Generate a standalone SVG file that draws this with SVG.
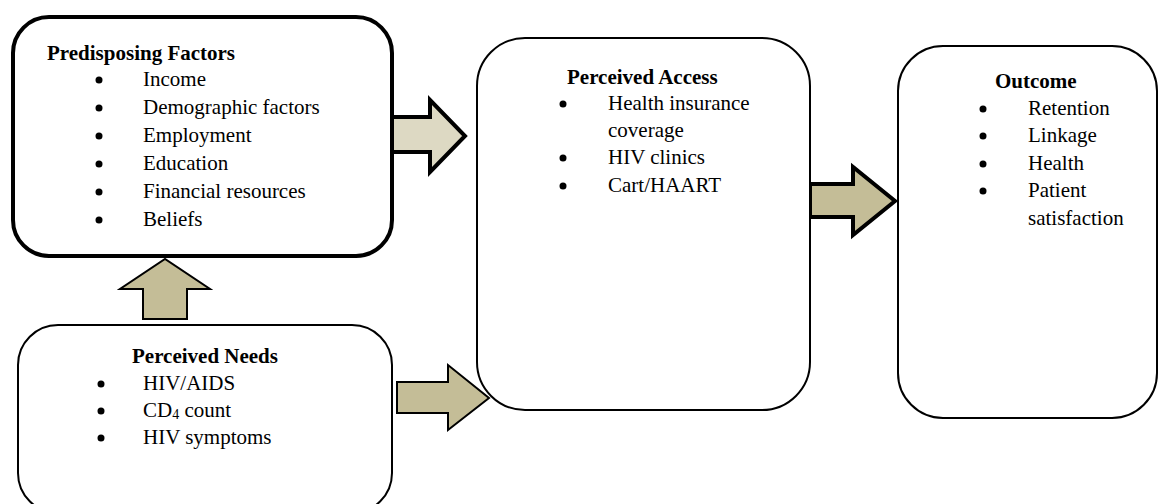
<svg xmlns="http://www.w3.org/2000/svg" width="1159" height="504" viewBox="0 0 1159 504">
<style>
.box{fill:#fff;stroke:#000;stroke-width:2}
.thick{stroke-width:4}
text{font-family:"Liberation Serif","Times New Roman",serif;font-size:21px;fill:#000}
.t{font-weight:bold}
.dot{fill:#000}
.arr{fill:#c4bd97;stroke:#000;stroke-width:2;stroke-linejoin:miter}
.arrT{stroke-width:4}
.light{fill:#ddd9c3}
</style>
<rect width="1159" height="504" fill="#fff"/>
<g id="connectors">
<polygon class="arr" points="143,319 143,289 120,289 165,259 210,289 187,289 187,319"/>
<polygon class="arr arrT light" points="392,117 430,117 430,100 465,136 430,172 430,152 392,152"/>
<polygon class="arr arrT" points="810,184 853,184 853,167 895,201 853,235 853,217 810,217"/>
<polygon class="arr" points="397,382 448,382 448,365 489,398 448,430 448,413 397,413"/>
</g>
<g id="predisposing">
<rect class="box thick" x="13" y="17" width="379" height="239" rx="36"/>
<text class="t" x="47" y="60">Predisposing Factors</text>
<circle class="dot" cx="99" cy="80" r="3.5"/><text x="143" y="86">Income</text>
<circle class="dot" cx="99" cy="108" r="3.5"/><text x="143" y="114">Demographic factors</text>
<circle class="dot" cx="99" cy="136" r="3.5"/><text x="143" y="142">Employment</text>
<circle class="dot" cx="99" cy="164" r="3.5"/><text x="143" y="170">Education</text>
<circle class="dot" cx="99" cy="192" r="3.5"/><text x="143" y="198">Financial resources</text>
<circle class="dot" cx="99" cy="220" r="3.5"/><text x="143" y="226">Beliefs</text>
</g>
<g id="needs">
<rect class="box" x="18" y="325" width="374" height="188" rx="40"/>
<text class="t" x="132" y="363">Perceived Needs</text>
<circle class="dot" cx="101" cy="384" r="3.5"/><text x="143" y="390">HIV/AIDS</text>
<circle class="dot" cx="101" cy="411" r="3.5"/><text x="143" y="417">CD<tspan font-size="14" dy="2">4</tspan><tspan dy="-2"> count</tspan></text>
<circle class="dot" cx="101" cy="438" r="3.5"/><text x="143" y="444">HIV symptoms</text>
</g>
<g id="access">
<rect class="box" x="477" y="38" width="333" height="372" rx="48"/>
<text class="t" x="567" y="84">Perceived Access</text>
<circle class="dot" cx="563" cy="104" r="3.5"/><text x="608" y="110">Health insurance</text>
<text x="608" y="137">coverage</text>
<circle class="dot" cx="563" cy="158" r="3.5"/><text x="608" y="164">HIV clinics</text>
<circle class="dot" cx="563" cy="186" r="3.5"/><text x="608" y="192">Cart/HAART</text>
</g>
<g id="outcome">
<rect class="box" x="898" y="46" width="259" height="372" rx="45"/>
<text class="t" x="995" y="88">Outcome</text>
<circle class="dot" cx="983" cy="109" r="3.5"/><text x="1028" y="115">Retention</text>
<circle class="dot" cx="983" cy="136" r="3.5"/><text x="1028" y="142">Linkage</text>
<circle class="dot" cx="983" cy="164" r="3.5"/><text x="1028" y="170">Health</text>
<circle class="dot" cx="983" cy="191" r="3.5"/><text x="1028" y="197">Patient</text>
<text x="1028" y="225">satisfaction</text>
</g>
</svg>
